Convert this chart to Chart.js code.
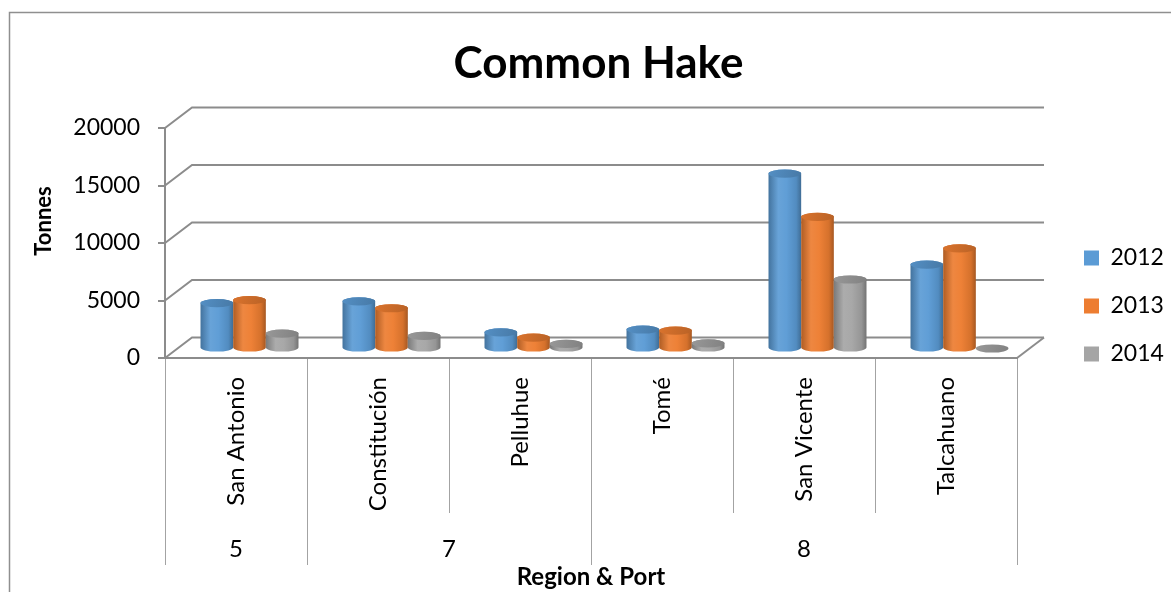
<!DOCTYPE html>
<html>
<head>
<meta charset="utf-8">
<title>Common Hake</title>
<script src="https://cdn.jsdelivr.net/npm/chart.js@4/dist/chart.umd.min.js"></script>
<style>
  html, body { margin: 0; padding: 0; background: #ffffff; }
  #wrap { width: 1171px; height: 592px; position: relative; }
</style>
</head>
<body>
<div id="wrap"><canvas id="chart" width="1171" height="592"></canvas></div>
<script>
// Landings of common hake per port (tonnes)
const categories = ['San Antonio', 'Constitución', 'Pelluhue', 'Tomé', 'San Vicente', 'Talcahuano'];
const regions    = ['5', '7', '7', '8', '8', '8'];
const landings2012 = [3950, 4100, 1400, 1650, 15200, 7300];
const landings2013 = [4200, 3500, 950, 1550, 11450, 8700];
const landings2014 = [1300, 1100, 400, 450, 6000, 0];
const seriesNames  = ['2012', '2013', '2014'];
const seriesColors = ['#5B9BD5', '#ED7D31', '#A5A5A5'];
const yMin = 0, yMax = 20000, yStep = 5000;

const FONT = "Lato, 'Open Sans', sans-serif";
const GRID = '#8c8c8c';
const BACK = { dx: 27, dy: -20.5 };  // offset of the back wall from the front plane
const MID  = { dx: 13.5, dy: -9.5 }; // plane on which the columns stand

function shade(hex, f) {
  const n = parseInt(hex.slice(1), 16);
  const ch = [(n >> 16) & 255, (n >> 8) & 255, n & 255].map(v => {
    const o = f > 1 ? v + (255 - v) * (f - 1) : v * f;
    return Math.max(0, Math.min(255, Math.round(o)));
  });
  return `rgb(${ch[0]},${ch[1]},${ch[2]})`;
}

function drawCylinder(ctx, cx, yTop, yBase, w, color) {
  const rx = w / 2, ry = Math.max(3, w * 0.125);
  const left = cx - rx, right = cx + rx;
  if (yBase - yTop > 0.5) {
    const g = ctx.createLinearGradient(left, 0, right, 0);
    g.addColorStop(0, shade(color, 0.74));
    g.addColorStop(0.3, shade(color, 1.08));
    g.addColorStop(0.55, shade(color, 1.03));
    g.addColorStop(0.85, shade(color, 0.9));
    g.addColorStop(1, shade(color, 0.7));
    ctx.beginPath();
    ctx.moveTo(left, yTop);
    ctx.lineTo(left, yBase);
    ctx.ellipse(cx, yBase, rx, ry, 0, Math.PI, 0, true);
    ctx.lineTo(right, yTop);
    ctx.ellipse(cx, yTop, rx, ry, 0, 0, Math.PI, true);
    ctx.closePath();
    ctx.fillStyle = g;
    ctx.fill();
  }
  const gt = ctx.createLinearGradient(left, yTop - ry, right, yTop + ry);
  gt.addColorStop(0, shade(color, 0.92));
  gt.addColorStop(1, shade(color, 0.78));
  ctx.beginPath();
  ctx.ellipse(cx, yTop, rx, ry, 0, 0, Math.PI * 2);
  ctx.fillStyle = gt;
  ctx.fill();
}

// Draws the 3-D frame, the cylinder columns, the grouped category rows and the outer border
const frame3d = {
  id: 'frame3d',
  beforeDatasetsDraw(chart) {
    const { ctx, chartArea: a, scales: { x, y } } = chart;
    ctx.save();
    ctx.strokeStyle = GRID;
    ctx.lineWidth = 2;
    y.ticks.forEach(t => {
      const py = y.getPixelForValue(t.value);
      ctx.beginPath();
      ctx.moveTo(a.left, py);
      ctx.lineTo(a.left + BACK.dx, py + BACK.dy);
      ctx.lineTo(a.right + BACK.dx, py + BACK.dy);
      ctx.stroke();
    });
    const p0 = y.getPixelForValue(yMin);
    ctx.beginPath();
    ctx.moveTo(a.right, p0);
    ctx.lineTo(a.right + BACK.dx, p0 + BACK.dy);
    ctx.stroke();

    chart.data.datasets.forEach((ds, di) => {
      const meta = chart.getDatasetMeta(di);
      if (meta.hidden) return;
      meta.data.forEach(bar => {
        const p = bar.getProps(['x', 'y', 'base', 'width'], true);
        drawCylinder(ctx, p.x + MID.dx, p.y + MID.dy, p.base + MID.dy, p.width, ds.backgroundColor);
      });
    });
    ctx.restore();
    return false;
  },
  afterDraw(chart) {
    const { ctx, scales: { x } } = chart;
    const n = categories.length;
    const longEnd = x.top + 207, shortEnd = x.top + 155;
    ctx.save();
    ctx.strokeStyle = '#a3a3a3';
    ctx.lineWidth = 1;
    for (let i = 0; i <= n; i++) {
      const px = Math.round(x.getPixelForValue(i - 0.5)) + 0.5;
      const groupEdge = i === 0 || i === n || regions[i] !== regions[i - 1];
      ctx.beginPath();
      ctx.moveTo(px, x.top + 1);
      ctx.lineTo(px, groupEdge ? longEnd : shortEnd);
      ctx.stroke();
    }
    // region row
    ctx.fillStyle = '#000';
    ctx.font = `24px ${FONT}`;
    ctx.textAlign = 'center';
    ctx.textBaseline = 'middle';
    let start = 0;
    for (let i = 1; i <= n; i++) {
      if (i === n || regions[i] !== regions[start]) {
        const l = x.getPixelForValue(start - 0.5), r = x.getPixelForValue(i - 0.5);
        ctx.fillText(regions[start], (l + r) / 2, x.top + 191);
        start = i;
      }
    }
    // value axis title
    ctx.save();
    ctx.translate(44, 221);
    ctx.rotate(-Math.PI / 2);
    ctx.font = `bold 22px ${FONT}`;
    ctx.fillText('Tonnes', 0, 0);
    ctx.restore();
    // outer border
    ctx.strokeStyle = '#8f8f8f';
    ctx.lineWidth = 1.5;
    ctx.beginPath();
    ctx.moveTo(9.5, chart.height);
    ctx.lineTo(9.5, 12.5);
    ctx.lineTo(chart.width, 12.5);
    ctx.stroke();
    ctx.restore();
  }
};

new Chart(document.getElementById('chart'), {
  type: 'bar',
  data: {
    labels: categories,
    datasets: [
      { label: seriesNames[0], data: landings2012, backgroundColor: seriesColors[0], borderWidth: 0 },
      { label: seriesNames[1], data: landings2013, backgroundColor: seriesColors[1], borderWidth: 0 },
      { label: seriesNames[2], data: landings2014, backgroundColor: seriesColors[2], borderWidth: 0 }
    ]
  },
  options: {
    responsive: false,
    animation: false,
    devicePixelRatio: 1,
    categoryPercentage: 0.69,
    barPercentage: 1.0,
    layout: { padding: { top: 20, left: 26, right: 0, bottom: 0 } },
    plugins: {
      title: {
        display: true,
        text: 'Common Hake',
        color: '#000',
        font: { family: FONT, size: 44, weight: 'bold', lineHeight: 1.2 },
        padding: { top: 17.6, bottom: 37.6 }
      },
      legend: {
        position: 'right',
        align: 'center',
        maxWidth: 112,
        labels: {
          boxWidth: 15, boxHeight: 15, padding: 25, color: '#000',
          font: { family: FONT, size: 23 }
        }
      },
      tooltip: { enabled: false }
    },
    scales: {
      x: {
        offset: true,
        grid: { display: false, drawTicks: false },
        border: { display: true, color: GRID, width: 2 },
        ticks: {
          autoSkip: false, minRotation: 90, maxRotation: 90, padding: 19,
          color: '#000', font: { family: FONT, size: 24 }
        },
        title: {
          display: true, text: 'Region & Port', color: '#000',
          font: { family: FONT, size: 24, weight: 'bold', lineHeight: 1.2 },
          padding: { top: 0, bottom: 0 }
        },
        afterFit(s) { s.height = 234; }
      },
      y: {
        min: yMin, max: yMax,
        ticks: {
          stepSize: yStep, padding: 18, color: '#000', font: { family: FONT, size: 23 },
          callback: v => String(v)
        },
        grid: { drawOnChartArea: false, drawTicks: true, tickLength: 7, color: GRID, lineWidth: 2 },
        border: { display: true, color: GRID, width: 2 },
        afterFit(s) { s.width = 139; }
      },
      depth: {
        position: 'right',
        display: true,
        grid: { display: false, drawTicks: false },
        border: { display: false },
        ticks: { display: false },
        afterFit(s) { s.width = 42; }
      }
    }
  },
  plugins: [frame3d]
});
</script>
</body>
</html>
